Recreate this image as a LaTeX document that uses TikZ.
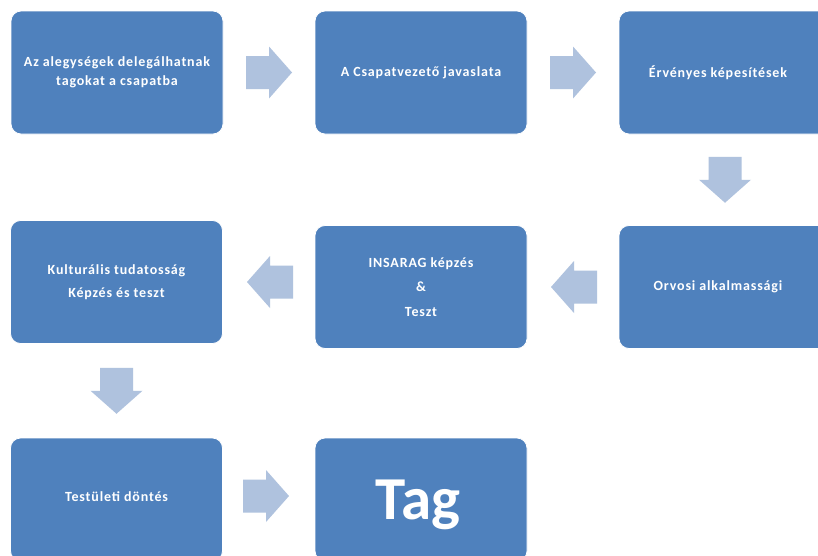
\documentclass[tikz,border=0pt]{standalone}
\usepackage{fontspec}
\setmainfont{Carlito}[LetterSpace=6]
\newfontfamily\tagfont{Carlito}
\usetikzlibrary{calc}
\definecolor{boxblue}{HTML}{4F81BD}
\definecolor{arrowblue}{HTML}{AFC2DE}
\begin{document}
\begin{tikzpicture}[x=1pt,y=-1pt,
  box/.style={draw=white, line width=0.8pt, fill=boxblue, rounded corners=10pt,
    minimum width=212pt, minimum height=123pt, inner sep=0pt},
  lbl/.style={text=white, align=center, inner sep=0pt},
  fs/.style={font=\bfseries\fontsize{14}{#1}\selectfont},
  blockarrow/.pic={\fill[arrowblue] (-23,-16.5) -- (0,-16.5) -- (0,-26) -- (23,0)
    -- (0,26) -- (0,16.5) -- (-23,16.5) -- cycle;}
]
\useasboundingbox (0,0) rectangle (818,555);
\fill[white] (0,0) rectangle (818,555);
\clip (0,0) rectangle (818,555);

% boxes
\node[box] (b1) at (117,72.5) {};
\node[box] (b2) at (421,72.5) {};
\node[box] (b3) at (725,72.5) {};
\node[box] (b4) at (116.5,282) {};
\node[box] (b5) at (421,287) {};
\node[box] (b6) at (725,287) {};
\node[box] (b7) at (116.5,499.5) {};
\node[box] (b8) at (421,499.5) {};

% labels
\node[lbl, fs=19] (t1) at (b1) {Az alegységek delegálhatnak\\tagokat a csapatba};
\node[lbl, fs=19] (t2) at (b2) {A Csapatvezető javaslata};
\node[lbl, fs=19] (t3) at (718,72.5) {Érvényes képesítések};
\node[lbl, fs=23] (t4) at (b4) {Kulturális tudatosság\\Képzés és teszt};
\node[lbl, fs=24.5] (t5) at (b5) {INSARAG képzés\\\&\\Teszt};
\node[lbl, fs=19] (t6) at (718,287) {Orvosi alkalmassági};
\node[lbl, fs=19] (t7) at (116.5,497) {Testületi döntés};
\node[lbl, font=\tagfont\bfseries\fontsize{61}{63}\selectfont] (t8) at (418,505) {Tag};

% block arrows
\pic at ($(b1.east)!0.5!(b2.west)$) {blockarrow};
\pic at ($(b2.east)!0.5!(b3.west)$) {blockarrow};
\pic[rotate=-90] at ($(b3.south)!0.5!(b6.north)$) {blockarrow};
\pic[rotate=180] at (574,287) {blockarrow};
\pic[rotate=180] at (270,282) {blockarrow};
\pic[rotate=-90] at ($(b4.south)!0.5!(b7.north)$) {blockarrow};
\pic at (266,496) {blockarrow};
\end{tikzpicture}
\end{document}
